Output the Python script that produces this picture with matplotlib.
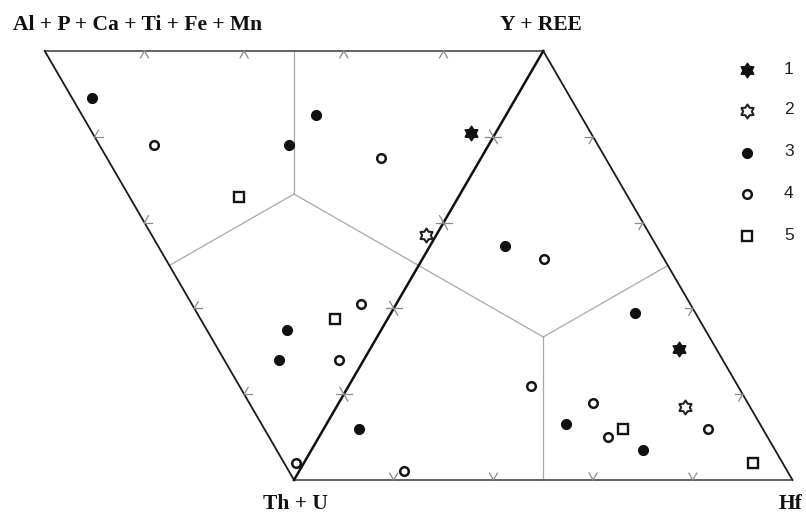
import numpy as np
import matplotlib
matplotlib.use("Agg")
import matplotlib.pyplot as plt
from matplotlib.path import Path

# --- data: compositions in % ---
# left triangle: (Al+P+Ca+Ti+Fe+Mn) - (Y+REE) - (Th+U)
left_series = [3, 3, 3, 3, 3, 4, 4, 4, 4, 4, 5, 5, 1, 2]
left_apcatfm = [85, 38, 40, 19, 17, 67, 20, 7, 5, 1.5, 44, 10.5, 5, 2]
left_yree = [4, 47, 38, 16, 11, 11, 55, 34, 23, 2.5, 22, 27, 76, 55]

# right triangle: (Y+REE) - (Th+U) - Hf
right_series = [1, 2, 3, 3, 3, 3, 3, 4, 4, 4, 4, 4, 4, 5, 5]
right_yree = [30.5, 17, 54.5, 39, 12, 13, 7, 51.5, 2, 22, 18, 10, 12, 12, 4]
right_hf = [62, 70, 15, 49, 7, 48, 66.5, 24.5, 21, 36.5, 51, 58, 77, 60, 90]

legend_labels = ["1", "2", "3", "4", "5"]
tick_fracs = [0.2, 0.4, 0.6, 0.8]

S = np.sqrt(3) / 2

# vertices (unit side)
A = np.array([-0.5, S])    # Al + P + Ca + Ti + Fe + Mn
Y = np.array([0.5, S])     # Y + REE
T = np.array([0.0, 0.0])   # Th + U
H = np.array([1.0, 0.0])   # Hf


def left_xy(a, y):
    a = np.asarray(a) / 100.0
    y = np.asarray(y) / 100.0
    return 0.5 * (y - a), S * (a + y)


def right_xy(y, h):
    y = np.asarray(y) / 100.0
    h = np.asarray(h) / 100.0
    return 0.5 * y + h, S * y


# hexagram marker
ang = np.deg2rad(90 + 30 * np.arange(12))
rad = np.where(np.arange(12) % 2 == 0, 1.0, 0.62)
hex_verts = np.column_stack([rad * np.cos(ang), rad * np.sin(ang)])
hex_verts = np.vstack([hex_verts, hex_verts[:1]])
hexagram = Path(hex_verts, closed=True)

styles = {
    1: dict(marker=hexagram, ms=10.5, mfc="#111111", mec="#111111", mew=1.0),
    2: dict(marker=hexagram, ms=10, mfc="white", mec="#222222", mew=1.5),
    3: dict(marker="o", ms=7.2, mfc="#111111", mec="#111111", mew=0.8),
    4: dict(marker="o", ms=6.2, mfc="white", mec="#151515", mew=1.8),
    5: dict(marker="s", ms=6.8, mfc="white", mec="#151515", mew=1.7),
}

fig = plt.figure(figsize=(8.06, 5.15), dpi=100)
ax = fig.add_axes([0, 0, 1, 1])
ax.set_xlim(-0.5898, 1.0271)
ax.set_ylim(-0.0707, 0.9690)
ax.axis("off")

# gray division lines: centroid -> edge midpoints
for tri in [(A, Y, T), (Y, T, H)]:
    c = sum(tri) / 3
    for i in range(3):
        m = (tri[i] + tri[(i + 1) % 3]) / 2
        ax.plot([c[0], m[0]], [c[1], m[1]], color="#a8a8a8", lw=0.9, zorder=1)

# outline
ax.plot([A[0], Y[0]], [A[1], Y[1]], color="#555555", lw=1.3, zorder=2)
ax.plot([T[0], H[0]], [T[1], H[1]], color="#555555", lw=1.3, zorder=2)
ax.plot([A[0], T[0]], [A[1], T[1]], color="#1a1a1a", lw=1.3, zorder=2)
ax.plot([Y[0], H[0]], [Y[1], H[1]], color="#1a1a1a", lw=1.3, zorder=2)
ax.plot([Y[0], T[0]], [Y[1], T[1]], color="#111111", lw=1.8, zorder=2)

# chevron ticks along every edge, pointing into each triangle
tick_len = 0.016
for tri in [(A, Y, T), (Y, T, H)]:
    for i in range(3):
        p, q, r = tri[i], tri[(i + 1) % 3], tri[(i + 2) % 3]
        d1 = (r - p) / np.linalg.norm(r - p)
        d2 = (r - q) / np.linalg.norm(r - q)
        for f in tick_fracs:
            pt = p + f * (q - p)
            for d in (d1, d2):
                e = pt + tick_len * d
                ax.plot([pt[0], e[0]], [pt[1], e[1]], color="#8a8a8a",
                        lw=0.9, zorder=2)

# data points
lx, ly = left_xy(left_apcatfm, left_yree)
rx, ry = right_xy(right_yree, right_hf)
for s in range(1, 6):
    for xs, ys, ser in [(lx, ly, left_series), (rx, ry, right_series)]:
        idx = [k for k, v in enumerate(ser) if v == s]
        if idx:
            ax.plot(xs[idx], ys[idx], ls="none", zorder=5, **styles[s])

# legend
W, Hpx = 806, 515
leg_y = [70, 111, 153, 194, 236]
for s, lab, yy in zip(range(1, 6), legend_labels, leg_y):
    ax.plot([747 / W], [1 - yy / Hpx], transform=fig.transFigure,
            ls="none", **styles[s])
    fig.text(784 / W, 1 - (yy - 1) / Hpx, lab, fontsize=12.5,
             family="Liberation Sans", color="#222222", va="center", ha="left")

# vertex labels
lab_kw = dict(fontsize=15.5, family="Liberation Serif", fontweight="bold",
              color="#111111", va="center")
fig.text(13 / W, 1 - 25 / Hpx, "Al + P + Ca + Ti + Fe + Mn", ha="left", **lab_kw)
fig.text(541 / W, 1 - 25 / Hpx, "Y + REE", ha="center", **lab_kw)
fig.text(295 / W, 1 - 504 / Hpx, "Th + U", ha="center", **lab_kw)
fig.text(779 / W, 1 - 504 / Hpx, "Hf", ha="left", **lab_kw)

fig.savefig("out.png", dpi=100, facecolor="white")
